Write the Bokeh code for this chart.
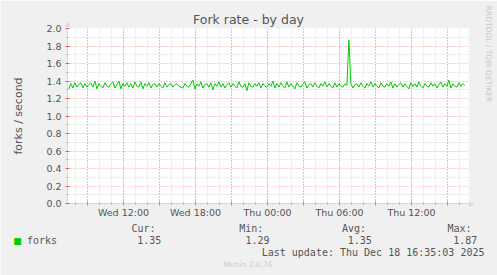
import math
from bokeh.plotting import figure
from bokeh.models import FixedTicker, Range1d
from bokeh.core.properties import value
from bokeh.embed import file_html
from bokeh.resources import INLINE

# ---------------- data ----------------
title_text = "Fork rate - by day"
y_axis_label = "forks / second"
series_name = "forks"
series_color = "#00CC00"

start_hour = 7.45          # hours since Wed 00:00
step_hours = 1.0 / 6.0     # 10-minute samples

values = [
    1.31, 1.37, 1.32, 1.38, 1.33, 1.36, 1.38, 1.32, 1.37, 1.33, 1.36, 1.38, 1.33, 1.40, 1.31, 1.37, 1.34, 1.32, 1.38, 1.34,
    1.33, 1.37, 1.39, 1.32, 1.36, 1.40, 1.31, 1.37, 1.34, 1.38, 1.33, 1.37, 1.32, 1.39, 1.34, 1.33, 1.39, 1.31, 1.37, 1.34,
    1.38, 1.32, 1.36, 1.37, 1.33, 1.37, 1.34, 1.32, 1.38, 1.33, 1.36, 1.37, 1.33, 1.36, 1.37, 1.34, 1.33, 1.32, 1.37, 1.34,
    1.33, 1.37, 1.41, 1.31, 1.37, 1.34, 1.39, 1.32, 1.36, 1.37, 1.33, 1.38, 1.30, 1.37, 1.34, 1.39, 1.33, 1.37, 1.32, 1.36,
    1.38, 1.33, 1.37, 1.34, 1.32, 1.39, 1.34, 1.33, 1.37, 1.29, 1.38, 1.34, 1.33, 1.37, 1.34, 1.38, 1.32, 1.37, 1.34, 1.33,
    1.37, 1.34, 1.40, 1.32, 1.37, 1.33, 1.38, 1.34, 1.32, 1.39, 1.33, 1.37, 1.34, 1.31, 1.38, 1.34, 1.33, 1.37, 1.39, 1.32,
    1.36, 1.37, 1.33, 1.38, 1.34, 1.32, 1.37, 1.34, 1.39, 1.33, 1.37, 1.34, 1.32, 1.38, 1.33, 1.37, 1.34, 1.33, 1.37, 1.35,
    1.87, 1.37, 1.32, 1.36, 1.37, 1.33, 1.38, 1.34, 1.32, 1.37, 1.34, 1.39, 1.33, 1.37, 1.34, 1.32, 1.38, 1.34, 1.33, 1.37,
    1.34, 1.39, 1.32, 1.37, 1.33, 1.36, 1.38, 1.33, 1.37, 1.34, 1.31, 1.38, 1.34, 1.37, 1.33, 1.39, 1.34, 1.32, 1.37, 1.34,
    1.33, 1.38, 1.34, 1.37, 1.32, 1.36, 1.39, 1.33, 1.37, 1.34, 1.41, 1.32, 1.37, 1.34, 1.33, 1.38, 1.34, 1.37, 1.35,
]

x_major_ticks = [9, 12, 15, 18, 21, 24, 27, 30, 33, 36, 39]
x_tick_labels = {12: "Wed 12:00", 18: "Wed 18:00", 24: "Thu 00:00", 30: "Thu 06:00", 36: "Thu 12:00"}
x_minor_ticks = list(range(8, 41))
y_major_ticks = [0.0, 0.2, 0.4, 0.6, 0.8, 1.0, 1.2, 1.4, 1.6, 1.8, 2.0]
y_minor_ticks = [0.1, 0.3, 0.5, 0.7, 0.9, 1.1, 1.3, 1.5, 1.7, 1.9]

stat_names = ["Cur:", "Min:", "Avg:", "Max:"]
stat_values = ["1.35", "1.29", "1.35", "1.87"]
last_update = "Last update: Thu Dec 18 16:35:03 2025"
footer = "Munin 2.0.76"
side_text = "RRDTOOL / TOBI OETIKER"

x_range = (7.333, 40.75)
y_range = (0.0, 2.0)

# ---------------- layout ----------------
W, H = 497, 275
L, R, T, B = 67, 29, 28, 72
FW, FH = W - L - R, H - T - B

def px(xp):
    return x_range[0] + (xp - L) * (x_range[1] - x_range[0]) / FW

def py(yp):
    return y_range[1] - (yp - T) * (y_range[1] - y_range[0]) / FH

xs = [start_hour + i * step_hours for i in range(len(values))]

FONT = "DejaVu Sans"
MONO = "DejaVu Sans Mono"
TXT = "#555555"
AXIS_C = "#CFD6F8"

p = figure(width=W, height=H, output_backend="svg", toolbar_location=None,
           x_range=Range1d(*x_range), y_range=Range1d(*y_range),
           min_border_left=L, min_border_right=R, min_border_top=T, min_border_bottom=B,
           background_fill_color="#FFFFFF", border_fill_color="#F0F0F0")
p.outline_line_color = None

p.line(xs, values, line_color=series_color, line_width=1)

# axes
p.xaxis.ticker = FixedTicker(ticks=x_major_ticks, minor_ticks=x_minor_ticks)
p.xaxis.major_label_overrides = {t: x_tick_labels.get(t, "") for t in x_major_ticks}
p.yaxis.ticker = FixedTicker(ticks=y_major_ticks, minor_ticks=y_minor_ticks)
p.yaxis.major_label_overrides = {t: "%.1f" % t for t in y_major_ticks}

for ax in (p.xaxis[0], p.yaxis[0]):
    ax.axis_line_color = AXIS_C
    ax.major_label_text_font = FONT
    ax.major_label_text_font_size = "9.5px"
    ax.major_label_text_color = TXT
    ax.major_tick_line_color = "#E06060"
    ax.major_tick_in = 2
    ax.major_tick_out = 2
    ax.minor_tick_line_color = "#AAAAAA"
    ax.minor_tick_in = 1
    ax.minor_tick_out = 1

p.xaxis.major_label_standoff = 1
p.yaxis.major_label_standoff = 4
p.yaxis.axis_label = y_axis_label
p.yaxis.axis_label_text_font = FONT
p.yaxis.axis_label_text_font_size = "11px"
p.yaxis.axis_label_text_font_style = "normal"
p.yaxis.axis_label_text_color = TXT
p.yaxis.axis_label_standoff = 18

# grids
for g in (p.xgrid[0], p.ygrid[0]):
    g.grid_line_color = "#FF0000"
    g.grid_line_alpha = 0.4
    g.grid_line_dash = "1 2"
    g.minor_grid_line_color = "#999999"
    g.minor_grid_line_alpha = 0.45
    g.minor_grid_line_dash = "1 2"

def lab(texts, xps, yps, size, font=FONT, color=TXT, align="left", angle=0.0):
    p.text([px(v) for v in xps], [py(v) for v in yps], text=texts, angle=angle,
           text_font=value(font), text_font_size=value(size), text_color=color,
           text_align=align, text_baseline="middle", level="overlay")

# axis arrow heads
lab(["\u25B2"], [L], [23.5], "7px", color=AXIS_C, align="center")
lab(["\u25B6"], [471], [L + FH - L + T], "7px", color=AXIS_C, align="center")

lab([title_text], [248], [19], "12.5px", align="center")
lab([side_text], [487.5], [53.5], "7.5px", color="#C8C8C8", align="center", angle=-math.pi / 2)

# legend
lab(["\u25A0"], [17], [240], "9px", color=series_color, align="center")
lab([series_name], [26.5], [239.5], "10px", font=MONO)
name_x = [131, 238.7, 341.5, 447]
val_x = [136.7, 245, 347.3, 452.7]
lab(stat_names, name_x, [227.5] * 4, "10px", font=MONO)
lab(stat_values, val_x, [239.5] * 4, "10px", font=MONO)
lab([last_update], [261.2], [251.7], "10px", font=MONO)
lab([footer], [223], [264], "7.5px", color="#CCCCCC")

open("out.html", "w").write(file_html(p, INLINE))
